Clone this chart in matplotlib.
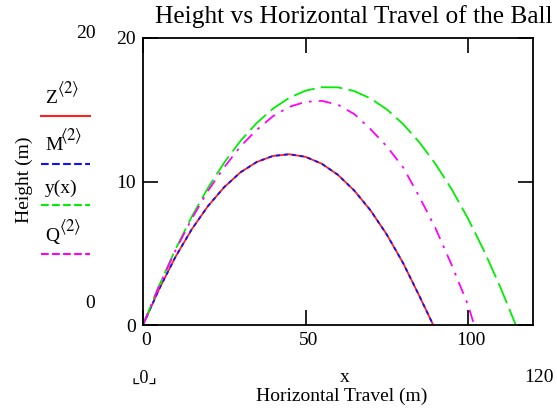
import matplotlib
matplotlib.use("Agg")
import matplotlib.pyplot as plt
from matplotlib.transforms import ScaledTranslation

plt.rcParams['font.family'] = ['Liberation Serif', 'DejaVu Sans']
plt.rcParams['mathtext.fontset'] = 'stix'

# ---- data ----
x_zm = [0, 5, 10, 15, 20, 25, 30, 35, 40, 45, 50, 55, 60, 65, 70, 75, 80, 85, 89.3]
z_vals = [0, 2.52, 4.75, 6.67, 8.29, 9.61, 10.64, 11.36, 11.78, 11.9, 11.72, 11.24,
          10.46, 9.37, 7.99, 6.31, 4.33, 2.04, 0]
m_vals = [0, 2.52, 4.75, 6.67, 8.29, 9.61, 10.64, 11.36, 11.78, 11.9, 11.72, 11.24,
          10.46, 9.37, 7.99, 6.31, 4.33, 2.04, 0]

x_y = [0, 5, 10, 15, 20, 25, 30, 35, 40, 45, 50, 55, 60, 65, 70, 75, 80, 85, 90,
       95, 100, 105, 110, 114.7]
y_vals = [0, 2.77, 5.28, 7.55, 9.56, 11.32, 12.83, 14.08, 15.08, 15.83, 16.33, 16.57,
          16.56, 16.30, 15.79, 15.03, 14.01, 12.74, 11.22, 9.45, 7.42, 5.14, 2.61, 0]

x_q = [0, 5, 10, 15, 20, 25, 30, 35, 40, 45, 50, 55, 60, 65, 70, 75, 80, 85, 90,
       95, 100, 101.9]
q_vals = [0, 2.75, 5.2, 7.4, 9.35, 11.0, 12.45, 13.6, 14.55, 15.2, 15.55, 15.62,
          15.35, 14.7, 13.65, 12.45, 11.0, 8.95, 6.74, 4.17, 1.4, 0]

x_ticks = [0, 50, 100]
y_ticks = [0, 10, 20]
x_lim = [0, 120]
y_lim = [0, 20]

title = "Height vs Horizontal Travel of the Ball"
x_label = "Horizontal Travel (m)"
y_label = "Height (m)"
legend_base = ["Z", "M", "y(x)", "Q"]
legend_sup = [r"$\langle 2\rangle$", r"$\langle 2\rangle$", "", r"$\langle 2\rangle$"]

W, H = 557, 409
fig = plt.figure(figsize=(W / 100, H / 100), dpi=100)
ax = fig.add_axes([143 / W, 1 - 325 / H, (533 - 143) / W, (325 - 38) / H])

red, blue, green, mag = '#ff2020', '#1010ff', '#00ee00', '#ff00ff'
l1, = ax.plot(x_zm, z_vals, color=red, lw=1.3, solid_capstyle='butt')
l2, = ax.plot(x_zm, m_vals, color=blue, lw=1.3, linestyle=(0, (2.2, 2.2)))
l3, = ax.plot(x_y, y_vals, color=green, lw=1.3, linestyle=(0, (12, 3.5)))
l4, = ax.plot(x_q, q_vals, color=mag, lw=1.3, linestyle=(0, (7, 4, 1.5, 4)))

ax.set_xlim(x_lim)
ax.set_ylim(y_lim)
ax.set_xticks(x_ticks)
ax.set_yticks(y_ticks)
ax.tick_params(direction='in', length=11, width=1.2, top=True, right=True,
               labelsize=14, pad=5, color='black')
for s in ax.spines.values():
    s.set_linewidth(1.3)

off = ScaledTranslation(3 / 100, 0, fig.dpi_scale_trans)
for lab in ax.get_xticklabels():
    lab.set_transform(lab.get_transform() + off)

fig.text(354 / W, 1 - 17 / H, title, ha='center', va='center', fontsize=18.3)
fig.text(342 / W, 1 - 396 / H, x_label, ha='center', va='center', fontsize=14)
fig.text(24 / W, 1 - 180 / H, y_label, ha='center', va='center', fontsize=14, rotation=90)

# Mathcad-style axis limit labels
fig.text(86 / W, 1 - 34 / H, "20", ha='center', va='center', fontsize=14)
fig.text(90 / W, 1 - 303 / H, "0", ha='center', va='center', fontsize=14)
fig.text(144 / W, 1 - 378 / H, "\u231e0\u231f", ha='center', va='center', fontsize=13)
fig.text(345 / W, 1 - 377 / H, "x", ha='center', va='center', fontsize=14)
fig.text(539 / W, 1 - 377 / H, "120", ha='center', va='center', fontsize=14)

# legend on the left
lines = [l1, l2, l3, l4]
base_y = [103, 150, 193, 241]
line_y = [115.5, 164, 205, 254]
base_w = [11, 13.5, 0, 13]
for ln, base, sup, by, ly, bw in zip(lines, legend_base, legend_sup, base_y, line_y, base_w):
    fig.text(45 / W, 1 - by / H, base, ha='left', va='baseline', fontsize=14)
    if sup:
        fig.text((45 + bw + 1) / W, 1 - (by - 10) / H, sup, ha='left', va='baseline',
                 fontsize=12)
    fig.add_artist(plt.Line2D([41.5 / W, 90 / W], [1 - ly / H, 1 - ly / H],
                              color=ln.get_color(), lw=1.5,
                              linestyle=ln.get_linestyle(), transform=fig.transFigure))

fig.savefig("out.png", dpi=100)
